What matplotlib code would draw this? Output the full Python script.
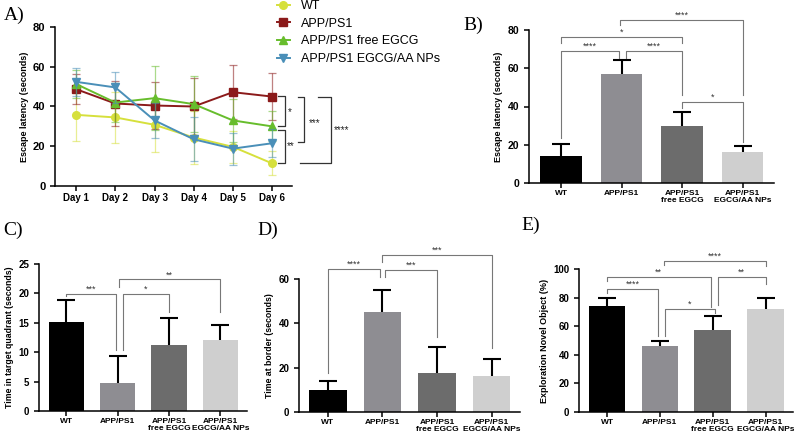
import numpy as np
import matplotlib
matplotlib.use("Agg")
import matplotlib.pyplot as plt

plt.rcParams['font.family'] = ['Liberation Sans', 'DejaVu Sans']

# ---- data ----
days = ['Day 1', 'Day 2', 'Day 3', 'Day 4', 'Day 5', 'Day 6']
series_names = ['WT', 'APP/PS1', 'APP/PS1 free EGCG', 'APP/PS1 EGCG/AA NPs']
wt_mean = [35.8, 34.5, 30.8, 24.4, 19.7, 11.4]
wt_err = [13.0, 13.0, 13.5, 13.5, 8.0, 6.0]
app_mean = [48.7, 41.5, 40.5, 40.0, 47.2, 45.0]
app_err = [7.5, 11.5, 12.0, 14.5, 13.5, 12.0]
free_mean = [51.3, 42.0, 44.2, 41.2, 33.0, 30.0]
free_err = [7.0, 10.0, 16.0, 14.0, 11.0, 7.5]
np_mean = [52.4, 49.6, 33.0, 23.5, 18.8, 21.5]
np_err = [7.0, 7.7, 9.0, 11.0, 8.0, 7.0]

groups = ['WT', 'APP/PS1', 'APP/PS1\nfree EGCG', 'APP/PS1\nEGCG/AA NPs']
latency_mean = [14.3, 57.0, 29.7, 16.2]
latency_err = [6.0, 7.3, 7.2, 3.2]
quadrant_mean = [15.1, 4.7, 11.3, 12.1]
quadrant_err = [3.8, 4.6, 4.6, 2.6]
border_mean = [10.0, 45.2, 17.7, 16.4]
border_err = [4.2, 9.8, 11.8, 7.6]
novel_mean = [73.9, 45.9, 57.1, 72.0]
novel_err = [5.8, 3.5, 9.8, 7.7]

line_colors = ['#d6e03c', '#8b1a1a', '#67bd2c', '#4a8fb8']
markers = ['o', 's', '^', 'v']
bar_colors = ['#000000', '#8e8d92', '#6c6c6c', '#cfcfcf']

fig = plt.figure(figsize=(7.94, 4.37), dpi=100)
W, H = 794.0, 437.0


def rect(l, r, t, b):
    return [l / W, (H - b) / H, (r - l) / W, (b - t) / H]


def style_axes(ax, tick_size):
    for s in ['top', 'right']:
        ax.spines[s].set_visible(False)
    for s in ['left', 'bottom']:
        ax.spines[s].set_linewidth(1.1)
    ax.tick_params(width=1.1, length=3.5)
    ax.tick_params(axis='y', labelsize=tick_size)
    ax.tick_params(axis='x', pad=1.5)
    for lab in ax.get_yticklabels():
        lab.set_fontweight('bold')


# ---- panel A ----
axA = fig.add_axes(rect(55, 292, 27, 186))
xd = np.arange(1, 7)
for mean, err, c, m, name in zip([wt_mean, app_mean, free_mean, np_mean],
                                 [wt_err, app_err, free_err, np_err],
                                 line_colors, markers, series_names):
    axA.errorbar(xd, mean, yerr=err, fmt='none', ecolor=c, elinewidth=0.9,
                 capsize=3, capthick=0.9, alpha=0.55)
    axA.plot(xd, mean, color=c, marker=m, markersize=5.5, lw=1.4, label=name)
axA.set_xlim(0.46, 6.51)
axA.set_ylim(0, 80)
axA.set_yticks([0, 20, 40, 60, 80])
axA.set_xticks(xd)
axA.set_xticklabels(days, fontsize=7, fontweight='bold')
axA.set_ylabel('Escape latency (seconds)', fontsize=6.5, fontweight='bold', labelpad=3)
style_axes(axA, 8)

# significance brackets at the right of panel A
a_brackets = [
    # (x vertical, y top, y bottom, tick start top, tick start bottom, label, label x, label y)
    (6.33, 45.3, 30.2, 6.15, 6.15, '*', 6.40, 37.0),
    (6.33, 28.2, 11.6, 6.15, 6.15, '**', 6.38, 20.0),
    (6.82, 44.8, 22.1, 6.66, 6.66, '***', 6.94, 31.5),
    (7.51, 44.8, 11.6, 7.17, 6.71, '****', 7.58, 28.0),
]
for xv, yt, yb, xt, xb, lab, lx, ly in a_brackets:
    axA.plot([xt, xv, xv, xb], [yt, yt, yb, yb], color='#333333', lw=0.9, clip_on=False)
    axA.text(lx, ly, lab, fontsize=7, ha='left', va='center', color='#222222')

leg = fig.legend(*axA.get_legend_handles_labels(), loc='upper left',
                 bbox_to_anchor=(277 / W, 1.0), frameon=False, fontsize=9,
                 handlelength=1.0, handletextpad=0.9, labelspacing=0.45,
                 borderpad=0, borderaxespad=0)


# ---- bar panels ----
def bar_panel(ax, means, errs, ylabel, ymax, step, brackets, tick_size, label_size):
    x = np.arange(len(means))
    ax.bar(x, means, width=0.69, color=bar_colors)
    eb = ax.errorbar(x, means, yerr=[np.zeros(len(errs)), errs], fmt='none',
                     ecolor='black', elinewidth=1.5, capsize=6.5, capthick=1.5)
    for cl in eb[1]:
        if np.allclose(cl.get_ydata(), means):
            cl.set_visible(False)
    ax.set_xlim(-0.53, 3.52)
    ax.set_ylim(0, ymax)
    ax.set_yticks(np.arange(0, ymax + 0.1, step))
    ax.set_xticks(x)
    ax.set_xticklabels(groups, fontsize=6, fontweight='bold', linespacing=1.05)
    ax.set_ylabel(ylabel, fontsize=label_size, fontweight='bold', labelpad=3)
    style_axes(ax, tick_size)
    for x1, x2, y, y1, y2, lab in brackets:
        ax.plot([x1, x1, x2, x2], [y1, y, y, y2], color='#777777', lw=0.8, clip_on=False)
        ax.text((x1 + x2) / 2, y, lab, fontsize=6.5, ha='center', va='bottom',
                color='#333333', clip_on=False)


axB = fig.add_axes(rect(529, 774, 30, 183))
bar_panel(axB, latency_mean, latency_err, 'Escape latency (seconds)', 80, 20, [
    (0, 0.95, 69.0, 23.5, 65.4, '****'),
    (1.07, 2, 69.0, 65.4, 46.0, '****'),
    (0, 2, 76.3, 73.0, 73.0, '*'),
    (0.98, 3, 85.2, 82.6, 46.0, '****'),
    (2, 3, 42.4, 39.0, 21.5, '*'),
], 7.5, 6.5)

axC = fig.add_axes(rect(39, 247, 264, 411))
bar_panel(axC, quadrant_mean, quadrant_err, 'Time in target quadrant (seconds)', 25, 5, [
    (0, 0.96, 19.9, 19.5, 10.4, '***'),
    (1.1, 2, 19.9, 10.4, 16.8, '*'),
    (1.02, 3, 22.4, 21.1, 16.8, '**'),
], 7, 6.3)

axD = fig.add_axes(rect(299, 520, 279, 412))
bar_panel(axD, border_mean, border_err, 'Time at border (seconds)', 60, 20, [
    (0, 0.95, 64.5, 17.5, 61.0, '****'),
    (1.05, 2, 64.0, 61.0, 34.0, '***'),
    (1.0, 3, 71.0, 67.5, 29.0, '***'),
], 7, 6.3)

axE = fig.add_axes(rect(579, 793, 269, 412))
bar_panel(axE, novel_mean, novel_err, 'Exploration Novel Object (%)', 100, 20, [
    (0, 0.96, 86.0, 83.0, 53.0, '****'),
    (0, 1.96, 94.4, 91.6, 73.4, '**'),
    (1.1, 2.04, 72.0, 53.0, 69.0, '*'),
    (1.08, 3, 105.6, 103.0, 102.0, '****'),
    (2.1, 3, 94.4, 75.0, 89.5, '**'),
], 7, 6.5)

# panel letters
for lab, px, py in [('A)', 4, 15), ('B)', 463, 25), ('C)', 3, 230),
                    ('D)', 257, 230), ('E)', 521, 225)]:
    fig.text(px / W, 1 - py / H, lab, fontsize=14, family='Liberation Serif',
             ha='left', va='center')

fig.savefig('out.png', dpi=100)
